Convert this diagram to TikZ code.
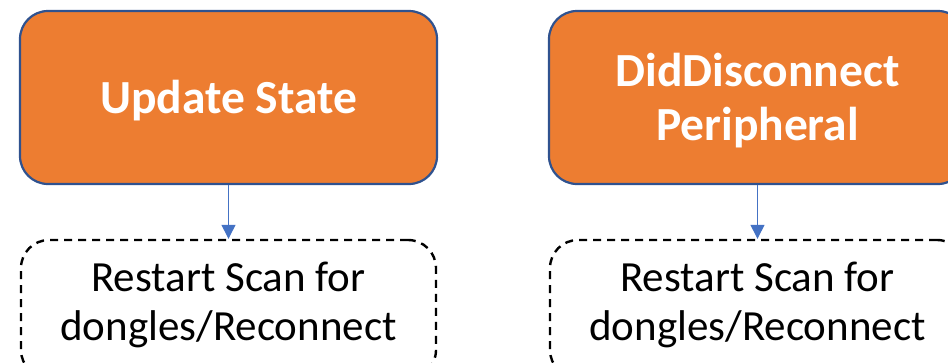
\documentclass[tikz,border=0pt]{standalone}
\usepackage{fontspec}
\setmainfont{Carlito}
\usetikzlibrary{arrows.meta}
\definecolor{boxorange}{HTML}{ED7D31}
\definecolor{boxedge}{HTML}{2F528F}
\definecolor{linkblue}{HTML}{4472C4}
\begin{document}
\begin{tikzpicture}[x=1pt,y=-1pt,
  state/.style={draw=boxedge, line width=2.2pt, fill=boxorange, rounded corners=28pt,
    minimum width=417pt, minimum height=173pt, text=white,
    font=\fontsize{47.5}{53.3}\selectfont\bfseries, align=center, inner sep=0pt},
  action/.style={draw=black, line width=2.4pt, dash pattern=on 8pt off 6pt,
    rounded corners=28pt, minimum width=415pt, minimum height=138pt,
    font=\fontsize{43}{49}\selectfont, align=center, inner sep=0pt,
    text height=80pt, text depth=18pt},
  link/.style={draw=linkblue, line width=1.3pt, -{Triangle[width=14pt,length=14pt]}}]
\useasboundingbox (0,0) rectangle (948,362);
\clip (0,0) rectangle (948,362);
% top row: state boxes
\node[state, text height=36pt, text depth=4.4pt] (upd) at (228.5,97.5) {Update State};
\node[state, text height=93pt, text depth=8pt] (dis) at (757.5,97.5) {DidDisconnect\\Peripheral};
% bottom row: dashed action boxes
\node[action] (scanA) at (228.5,309) {Restart Scan for\\dongles/Reconnect};
\node[action] (scanB) at (757.5,309) {Restart Scan for\\dongles/Reconnect};
% connectors
\draw[link] (upd.south) -- (scanA.north);
\draw[link] (dis.south) -- (scanB.north);
\end{tikzpicture}
\end{document}
